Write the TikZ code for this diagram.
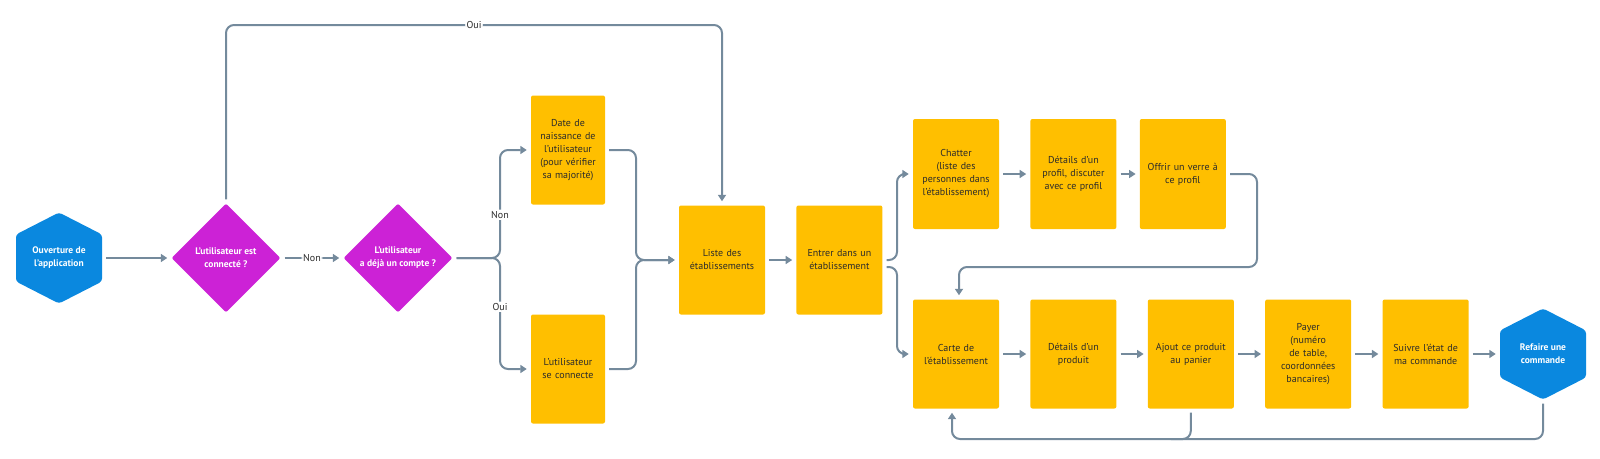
\documentclass[tikz,border=0pt]{standalone}
\usepackage{fontspec}
\setmainfont{PT Sans}
\usetikzlibrary{shapes.geometric,arrows.meta,positioning,calc}

\definecolor{boxyellow}{HTML}{FFBF00}
\definecolor{askmagenta}{HTML}{CC22D6}
\definecolor{hexblue}{HTML}{0A88DF}
\definecolor{linkgray}{HTML}{748A9C}
\definecolor{inkdark}{HTML}{2B2B2B}

\begin{document}
\begin{tikzpicture}[
  x=1pt, y=-1pt,
  node distance=31pt,
  every node/.style={font=\fontsize{10}{13}\selectfont, align=center},
  stepbox/.style={rectangle, fill=boxyellow, rounded corners=2pt,
    minimum width=86pt, minimum height=109pt, text width=80pt,
    inner sep=2pt, text=inkdark},
  askdiamond/.style={diamond, fill=askmagenta, aspect=1, rounded corners=2pt,
    minimum width=109pt, minimum height=109pt, inner sep=0pt, text=white,
    font=\fontsize{9.5}{13}\selectfont\bfseries},
  hexnode/.style={rectangle, fill=white, minimum width=86pt, minimum height=91pt,
    inner sep=0pt, text=white, font=\fontsize{9.5}{13}\selectfont\bfseries,
    path picture={\fill[hexblue, rounded corners=3pt]
      (path picture bounding box.north)
      -- ($(path picture bounding box.north east)+(0,-22pt)$)
      -- ($(path picture bounding box.south east)+(0,22pt)$)
      -- (path picture bounding box.south)
      -- ($(path picture bounding box.south west)+(0,22pt)$)
      -- ($(path picture bounding box.north west)+(0,-22pt)$)
      -- cycle;}},
  plain/.style={draw=linkgray, line width=2pt, rounded corners=8pt, shorten <=4pt},
  link/.style={plain, -{Triangle[length=6.5pt,width=8pt]}, shorten >=4pt},
  tag/.style={fill=white, inner sep=1.5pt, text=inkdark},
  ]
  \useasboundingbox (0,0) rectangle (1600,458);

  % left part: opening and questions
  \node[hexnode](open) at (59,258){Ouverture de\\l'application};
  \node[askdiamond](logged) at (226,258){L'utilisateur est\\connecté ?};
  \node[askdiamond](account) at (398,258){L'utilisateur\\a déjà un compte ?};
  \node[stepbox, minimum width=74pt, text width=70pt](birth) at (568,150){Date de\\naissance de\\l'utilisateur\\(pour vérifier\\sa majorité)};
  \node[stepbox, minimum width=74pt, text width=70pt](login) at (568,369){L'utilisateur\\se connecte};
  \node[stepbox](venues) at (722,260){Liste des\\établissements};
  \node[stepbox, right=of venues](enter){Entrer dans un\\établissement};

  % upper row: people
  \node[stepbox, minimum height=110pt](chat) at (956,174){Chatter\\(liste des\\personnes dans\\l'établissement)};
  \node[stepbox, minimum height=110pt, right=of chat](profile){Détails d'un\\profil, discuter\\avec ce profil};
  \node[stepbox, minimum height=110pt, right=23pt of profile](drink){Offrir un verre à\\ce profil};

  % lower row: ordering
  \node[stepbox](menu) at (956,354){Carte de\\l'établissement};
  \node[stepbox, right=of menu](product){Détails d'un\\produit};
  \node[stepbox, right=of product](cart){Ajout ce produit\\au panier};
  \node[stepbox, right=of cart](pay){Payer\\(numéro\\de table,\\coordonnées\\bancaires)};
  \node[stepbox, right=of pay](track){Suivre l'état de\\ma commande};
  \node[hexnode, right=of track](again){Refaire une\\commande};

  \coordinate(ouitop) at (0,25);
  \coordinate(forkleft) at (500,0);
  \coordinate(joinleft) at (636,0);
  \coordinate(forkright) at (897,0);
  \coordinate(enterlow) at ($(enter.east)+(0,7)$);
  \coordinate(backright) at (1257,267);
  \coordinate(loopbottom) at (0,439);
  \coordinate(menutop) at ($(menu.north)+(3,0)$);
  \coordinate(menubase) at ($(menu.south)+(-4,0)$);

  \draw[link] (open) -- (logged);
  \draw[link] (logged) -- node[tag](nonmid){Non} (account);
  \draw[link] (logged.north) -- (logged.north |- ouitop)
    -- node[tag](ouitopl){Oui} (venues.north |- ouitop) -- (venues.north);
  \draw[link] (account.east) -- (account.east -| forkleft)
    -- node[tag, pos=0.4](nonfork){Non} (forkleft |- birth.west) -- (birth.west);
  \draw[link] (account.east) -- (account.east -| forkleft)
    -- node[tag, pos=0.44](ouifork){Oui} (forkleft |- login.west) -- (login.west);
  \draw[link] (birth.east) -- (joinleft |- birth.east) -- (joinleft |- venues.west) -- (venues.west);
  \draw[link] (login.east) -- (joinleft |- login.east) -- (joinleft |- venues.west) -- (venues.west);
  \draw[link] (venues) -- (enter);
  \draw[link] (enter.east) -- (enter.east -| forkright) -- (forkright |- chat.west) -- (chat.west);
  \draw[link] (enterlow) -- (enterlow -| forkright) -- (forkright |- menu.west) -- (menu.west);
  \draw[link] (chat) -- (profile);
  \draw[link] (profile) -- (drink);
  \draw[link] (drink.east) -- (drink.east -| backright) -- (backright)
    -- (backright -| menutop) -- (menutop);
  \draw[link] (menu) -- (product);
  \draw[link] (product) -- (cart);
  \draw[link] (cart) -- (pay);
  \draw[link] (pay) -- (track);
  \draw[link] (track) -- (again);
  \draw[link] (again.south) -- (again.south |- loopbottom)
    -- (menubase |- loopbottom) -- (menubase);
  \draw[plain] (cart.south) -- (cart.south |- loopbottom) -- ++(-20,0);
\end{tikzpicture}
\end{document}
